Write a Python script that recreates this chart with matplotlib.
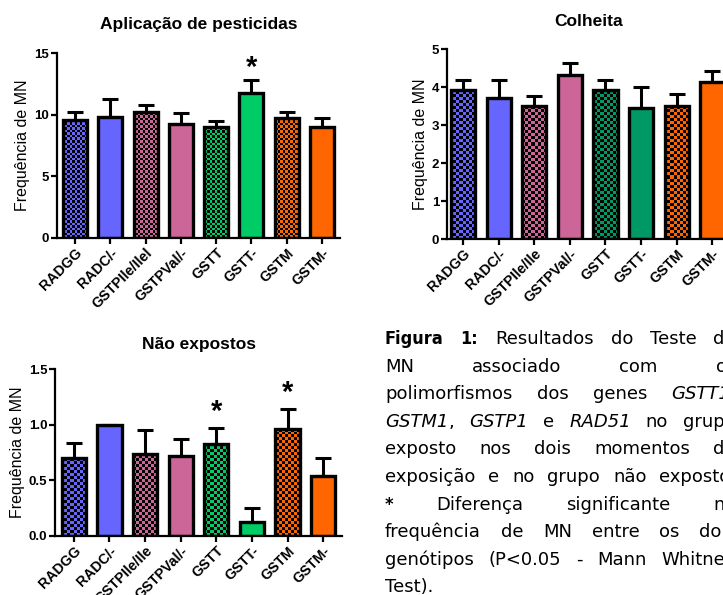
import numpy as np
import matplotlib
matplotlib.use("Agg")
import matplotlib.pyplot as plt

plt.rcParams['font.family'] = ['Liberation Sans', 'DejaVu Sans']

categories = ["RADGG", "RADC/-", "GSTPIle/Ilel", "GSTPVal/-", "GSTT", "GSTT-", "GSTM", "GSTM-"]
categories_b = ["RADGG", "RADC/-", "GSTPIle/Ile", "GSTPVal/-", "GSTT", "GSTT-", "GSTM", "GSTM-"]

aplic_mean = [9.6, 9.85, 10.2, 9.25, 9.0, 11.75, 9.7, 9.0]
aplic_err = [0.6, 1.4, 0.55, 0.85, 0.45, 1.1, 0.55, 0.7]
colh_mean = [3.93, 3.72, 3.50, 4.31, 3.93, 3.46, 3.49, 4.13]
colh_err = [0.25, 0.46, 0.27, 0.31, 0.25, 0.54, 0.32, 0.30]
nao_mean = [0.70, 1.00, 0.74, 0.715, 0.83, 0.13, 0.96, 0.535]
nao_err = [0.135, 0.0, 0.215, 0.16, 0.14, 0.125, 0.185, 0.165]

checkered = [True, False, True, False, True, False, True, False]
colors_a = ["#6666FF", "#6666FF", "#CC6699", "#CC6699", "#00CC66", "#00CC66", "#FF6600", "#FF6600"]
colors_b = ["#6666FF", "#6666FF", "#CC6699", "#CC6699", "#009966", "#009966", "#FF6600", "#FF6600"]

W, H, DPI = 723, 595, 100
fig = plt.figure(figsize=(W / DPI, H / DPI), dpi=DPI)


def px_axes(l, r, top, bottom):
    return fig.add_axes([l / W, 1 - bottom / H, (r - l) / W, (bottom - top) / H])


def checker(ax, patch, cell):
    pos = ax.get_position()
    wpx = pos.width * W
    hpx = pos.height * H
    nx = int(round(wpx / cell))
    ny = int(round(hpx / cell))
    ii, jj = np.indices((ny, nx))
    arr = np.zeros((ny, nx, 4))
    arr[..., 3] = ((ii + jj) % 2).astype(float)
    im = ax.imshow(arr, extent=[0, 1, 0, 1], transform=ax.transAxes,
                   interpolation='nearest', aspect='auto', zorder=2.5)
    im.set_clip_path(patch)


def panel(ax, title, cats, means, errs, colors, ylim, yticks, yticklabels,
          stars, star_off, title_pad, cell, xlim):
    x = np.arange(len(cats))
    bars = ax.bar(x, means, width=0.68, color=colors, edgecolor='none', zorder=2)
    for b, chk in zip(bars, checkered):
        if chk:
            checker(ax, b, cell)
    ax.bar(x, means, width=0.68, facecolor='none', edgecolor='black', linewidth=2.4, zorder=3)
    ax.errorbar(x, means, yerr=[np.zeros(len(x)), errs], fmt='none', ecolor='black',
                elinewidth=2.2, capsize=5.5, capthick=2.2, zorder=4)
    for i in stars:
        ax.annotate("*", (x[i], means[i] + errs[i]), xytext=(0, star_off),
                    textcoords='offset points', ha='center', va='center',
                    fontsize=21, fontweight='bold')
    ax.set_xlim(*xlim)
    ax.set_ylim(*ylim)
    ax.set_yticks(yticks)
    ax.set_yticklabels(yticklabels, fontsize=9.5, fontweight='bold')
    ax.set_xticks(x)
    ax.set_xticklabels(cats, rotation=45, ha='right', va='top', rotation_mode='anchor',
                       fontsize=10.3, fontweight='bold')
    for s in ['top', 'right']:
        ax.spines[s].set_visible(False)
    for s in ['left', 'bottom']:
        ax.spines[s].set_linewidth(1.6)
    ax.tick_params(axis='both', width=1.6, length=4, pad=1.5)
    ax.set_ylabel("Frequência de MN", fontsize=11.5, labelpad=3)
    ax.set_title(title, fontsize=12.5, fontweight='bold', pad=title_pad)


ax1 = px_axes(57, 340, 53, 238)
panel(ax1, "Aplicação de pesticidas", categories, aplic_mean, aplic_err, colors_a,
      (0, 15), [0, 5, 10, 15], ["0", "5", "10", "15"], [5], 8, 17, 2.5, (-0.51, 7.51))

ax2 = px_axes(447, 730, 49, 239)
panel(ax2, "Colheita", categories_b, colh_mean, colh_err, colors_b,
      (0, 5), [0, 1, 2, 3, 4, 5], ["0", "1", "2", "3", "4", "5"], [], 10, 16.5, 3.0, (-0.45, 7.5))

ax3 = px_axes(55, 342, 369, 536)
panel(ax3, "Não expostos", categories_b, nao_mean, nao_err, colors_a,
      (0, 1.5), [0, 0.5, 1.0, 1.5], ["0.0", "0.5", "1.0", "1.5"], [4, 6], 11.5, 14.5, 3.0,
      (-0.53, 7.53))

# Caption (justified, running past the right edge as in the source)
cap_lines = [
    [("Figura", 'b'), ("1:", 'b'), ("Resultados", 'n'), ("do", 'n'), ("Teste", 'n'), ("de", 'n')],
    [("MN", 'n'), ("associado", 'n'), ("com", 'n'), ("os", 'n')],
    [("polimorfismos", 'n'), ("dos", 'n'), ("genes", 'n'), ("GSTT1,", 'i')],
    [("GSTM1", 'i'), (",", 'n'), ("GSTP1", 'i'), ("e", 'n'), ("RAD51", 'i'), ("no", 'n'), ("grupo", 'n')],
    [("exposto", 'n'), ("nos", 'n'), ("dois", 'n'), ("momentos", 'n'), ("de", 'n')],
    [("exposição", 'n'), ("e", 'n'), ("no", 'n'), ("grupo", 'n'), ("não", 'n'), ("exposto.", 'n')],
    [("*", 'b'), ("Diferença", 'n'), ("significante", 'n'), ("na", 'n')],
    [("frequência", 'n'), ("de", 'n'), ("MN", 'n'), ("entre", 'n'), ("os", 'n'), ("dois", 'n')],
    [("genótipos", 'n'), ("(P<0.05", 'n'), ("-", 'n'), ("Mann", 'n'), ("Whitney", 'n')],
    [("Test).", 'n')],
]

cap_left, cap_right = 385, 736
cap_top, cap_step = 339, 27.6
fs = 13.0
renderer = fig.canvas.get_renderer()


def style_kw(st):
    if st == 'b':
        return dict(fontweight='bold', fontstretch='condensed', family=['DejaVu Sans'])
    if st == 'i':
        return dict(fontstyle='italic', family=['DejaVu Sans'])
    return dict(family=['DejaVu Sans'])


space_px = fs * 0.32 * DPI / 72
for li, words in enumerate(cap_lines):
    y = 1 - (cap_top + li * cap_step) / H
    texts = []
    for w, st in words:
        t = fig.text(0, y, w, fontsize=fs, va='center', ha='left', **style_kw(st))
        texts.append(t)
    widths = [t.get_window_extent(renderer).width for t in texts]
    glue = [w == "," for w, _ in words]
    n_gaps = sum(1 for k in range(1, len(words)) if not glue[k])
    total = sum(widths)
    last = li == len(cap_lines) - 1
    if last or n_gaps == 0:
        gap = space_px
    else:
        gap = max(space_px, (cap_right - cap_left - total) / n_gaps)
    xcur = cap_left
    for k, (t, wd) in enumerate(zip(texts, widths)):
        if k > 0 and not glue[k]:
            xcur += gap
        t.set_x(xcur / W)
        xcur += wd

fig.savefig("out.png", dpi=DPI)
